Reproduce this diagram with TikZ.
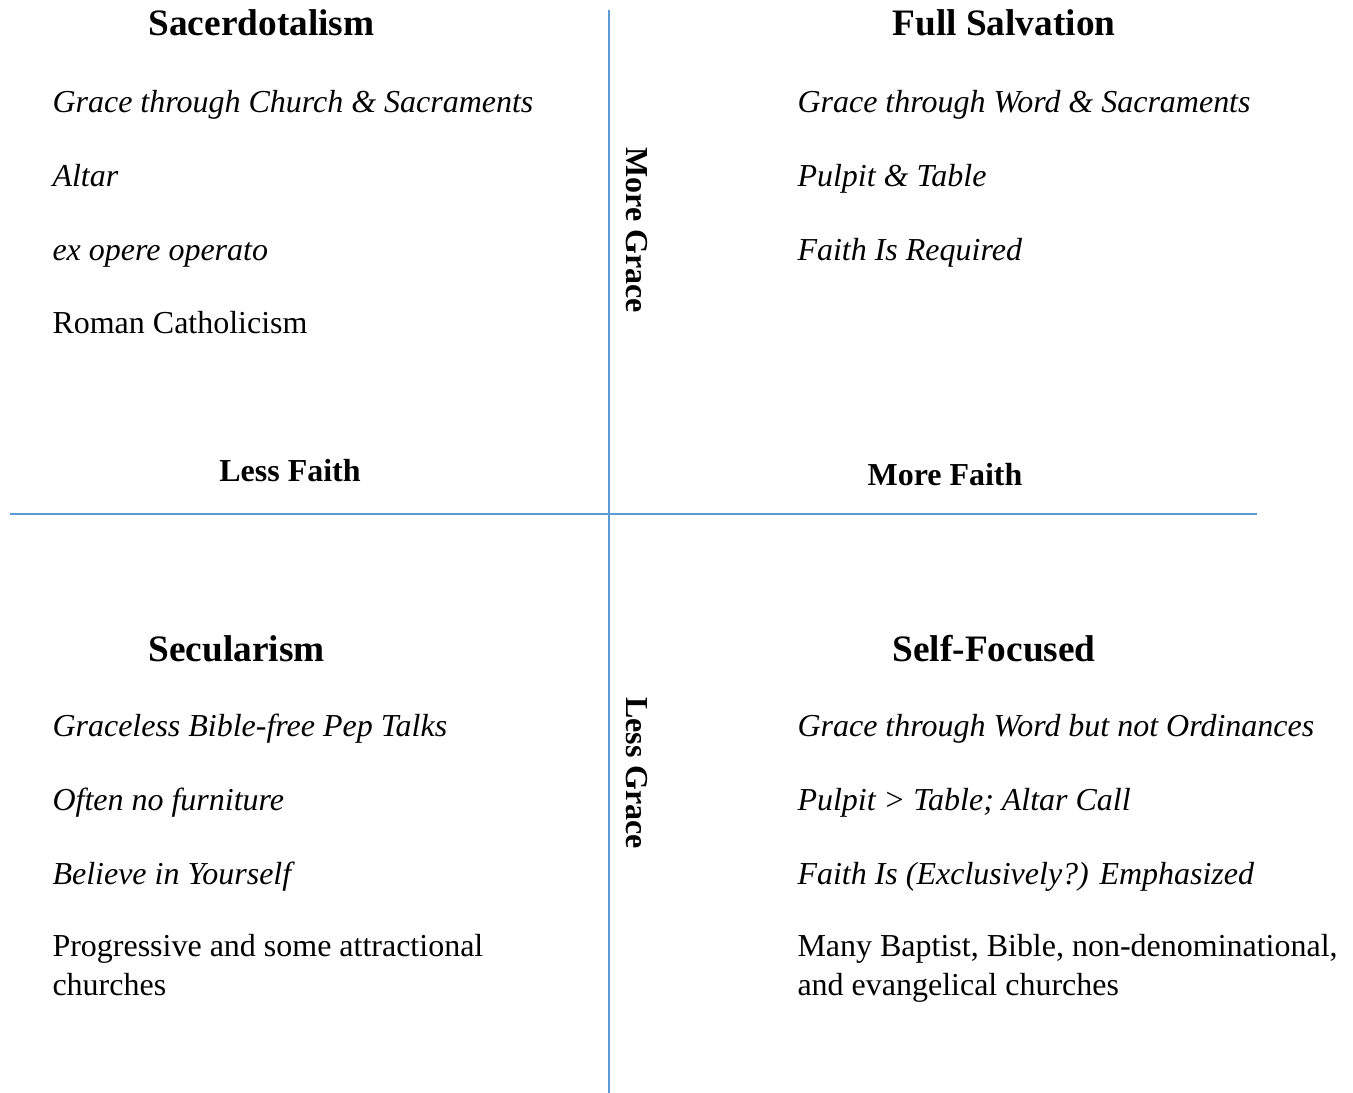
\documentclass[tikz,border=0pt]{standalone}
\usepackage{fontspec}
\setmainfont{Liberation Serif}
\usepackage{tikz}
\definecolor{axisblue}{HTML}{5B9BD5}
\tikzset{
	headstyle/.style={anchor=base west,inner sep=0pt,font=\fontsize{14}{16}\selectfont\bfseries},
	itemstyle/.style={anchor=base west,inner sep=0pt,font=\fontsize{12}{14.26}\selectfont\itshape},
	plainstyle/.style={anchor=base west,inner sep=0pt,align=left,font=\fontsize{12}{14.26}\selectfont},
	faithstyle/.style={anchor=base,inner sep=0pt,font=\fontsize{12}{14}\selectfont\bfseries},
	gracestyle/.style={rotate=-90,inner sep=0pt,font=\fontsize{12}{14}\selectfont\bfseries},
	axisstyle/.style={draw=axisblue,line width=1.1pt}
}

\begin{document}
\begin{tikzpicture}[x=0.3752pt,y=-0.3752pt]
	\useasboundingbox (0,0) rectangle (1353,1093);
	% axes
	\coordinate (top) at (609,10);
	\coordinate (bottom) at (609,1093);
	\coordinate (left) at (10,514);
	\coordinate (right) at (1257,514);
	\draw[axisstyle] (top)--(bottom);
	\draw[axisstyle] (left)--(right);
	\node[faithstyle] (lessfaith) at (290,481) {Less Faith};
	\node[faithstyle] (morefaith) at (945,485) {More Faith};
	\node[gracestyle] (moregrace) at (637,230) {More Grace};
	\node[gracestyle] (lessgrace) at (637,773) {Less Grace};
	% top left
	\node[headstyle] (sacerd) at (148,35) {Sacerdotalism};
	\node[itemstyle] (sac1) at (52,112) {Grace through Church \& Sacraments};
	\node[itemstyle] (sac2) at (52,186) {Altar};
	\node[itemstyle] (sac3) at (52,260) {ex opere operato};
	\node[plainstyle] (sac4) at (52,333) {Roman Catholicism};
	% top right
	\node[headstyle] (fullsal) at (892,35) {Full Salvation};
	\node[itemstyle] (full1) at (797,112) {Grace through Word \& Sacraments};
	\node[itemstyle] (full2) at (797,186) {Pulpit \& Table};
	\node[itemstyle] (full3) at (797,260) {Faith Is Required};
	% bottom left
	\node[headstyle] (secul) at (148,661) {Secularism};
	\node[itemstyle] (sec1) at (52,736) {Graceless Bible-free Pep Talks};
	\node[itemstyle] (sec2) at (52,810) {Often no furniture};
	\node[itemstyle] (sec3) at (52,884) {Believe in Yourself};
	\node[plainstyle] (sec4) at (52,995) {Progressive and some attractional\\churches};
	% bottom right
	\node[headstyle] (selffoc) at (892,661) {Self-Focused};
	\node[itemstyle] (self1) at (797,736) {Grace through Word but not Ordinances};
	\node[itemstyle] (self2) at (797,810) {Pulpit > Table; Altar Call};
	\node[itemstyle] (self3) at (797,884) {Faith Is (Exclusively?) Emphasized};
	\node[plainstyle] (self4) at (797,995) {Many Baptist, Bible, non-denominational,\\and evangelical churches};
\end{tikzpicture}
\end{document}
